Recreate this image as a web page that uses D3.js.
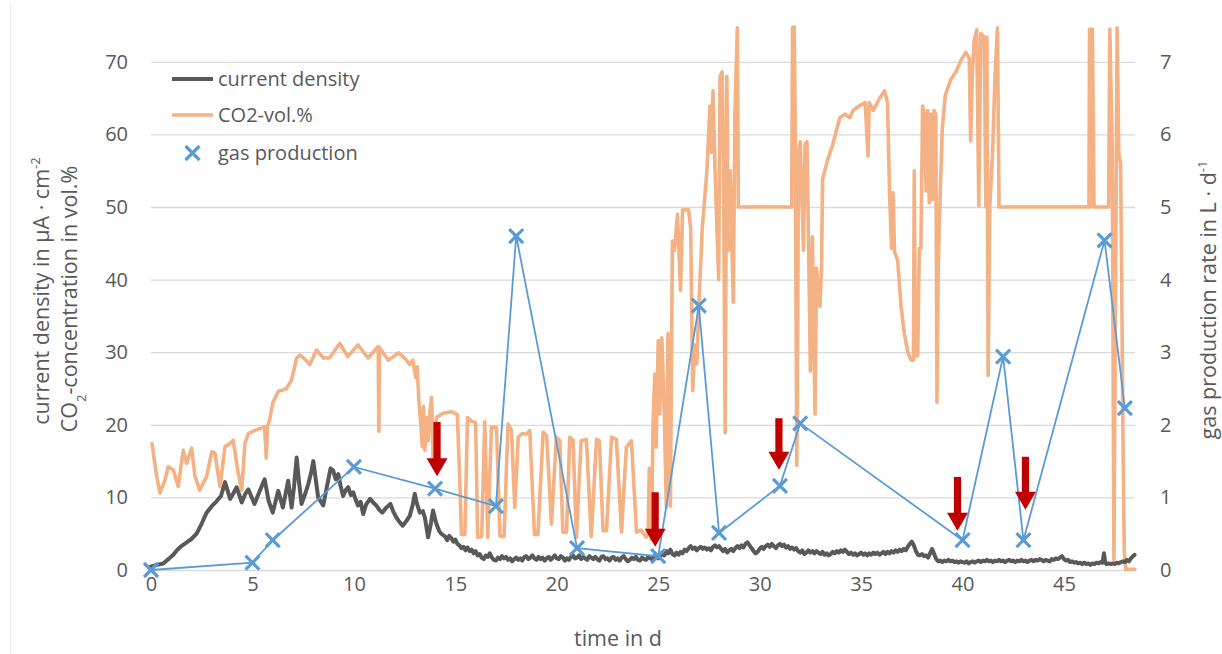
<!DOCTYPE html>
<html>
<head>
<meta charset="utf-8">
<script src="https://cdn.jsdelivr.net/npm/d3@7"></script>
<style>
  html, body { margin: 0; padding: 0; background: #ffffff; }
  svg { display: block; font-family: "Open Sans", sans-serif; }
</style>
</head>
<body>
<svg id="chart" width="1222" height="654"></svg>
<script>
// ---- data -------------------------------------------------------------
// current density (µA·cm⁻²): [time in d, value]
const currentSeries = [
  [0.0,0.5],[0.3,0.7],[0.6,0.9],[0.9,1.6],[1.1,2.1],[1.27,2.7],[1.5,3.3],[1.76,3.8],[2.0,4.3],[2.25,5.0],
  [2.5,6.4],[2.74,7.9],[3.0,8.8],[3.24,9.5],[3.45,10.2],[3.65,12.1],[3.9,9.8],[4.05,10.5],[4.22,11.4],[4.47,9.3],
  [4.65,10.5],[4.8,11.1],[5.1,9.1],[5.35,10.8],[5.6,12.5],[5.8,9.5],[6.0,7.9],[6.27,10.9],[6.5,8.6],[6.76,12.3],
  [6.93,8.6],[7.05,11.5],[7.18,15.5],[7.3,12.0],[7.42,9.1],[7.6,10.5],[7.75,11.8],[7.9,13.5],[8.0,15.0],[8.12,12.5],
  [8.24,10.0],[8.49,8.9],[8.6,10.5],[8.73,12.3],[8.85,14.0],[8.98,13.7],[9.1,12.5],[9.23,13.2],[9.35,11.5],[9.47,10.2],
  [9.6,11.0],[9.72,11.4],[9.85,10.3],[9.97,10.7],[10.1,9.6],[10.2,8.9],[10.33,9.4],[10.46,7.7],[10.6,9.0],[10.8,9.8],
  [10.95,9.3],[11.1,8.9],[11.25,8.3],[11.4,7.9],[11.6,8.6],[11.8,9.1],[11.95,8.0],[12.1,7.2],[12.25,6.6],[12.4,6.1],
  [12.6,6.8],[12.76,7.5],[12.9,9.0],[13.0,10.5],[13.1,9.2],[13.25,7.9],[13.4,8.1],[13.5,7.2],[13.66,4.5],[13.8,6.5],
  [13.9,8.2],[14.05,6.5],[14.2,5.4],[14.3,5.0],[14.4,4.8],[14.5,4.6],[14.6,4.1],[14.7,4.7],[14.8,4.4],[14.9,3.9],
  [15.0,4.2],[15.1,3.6],[15.2,3.4],[15.3,3.0],[15.4,3.2],[15.5,2.7],[15.6,3.1],[15.7,2.6],[15.8,2.8],[15.9,2.3],
  [16.0,2.6],[16.1,2.0],[16.2,2.2],[16.3,1.7],[16.4,1.5],[16.5,2.0],[16.6,1.8],[16.7,2.3],[16.8,1.7],[16.9,1.4],
  [17.0,1.3],[17.1,1.7],[17.2,1.5],[17.3,1.9],[17.4,1.6],[17.5,1.8],[17.6,1.4],[17.7,1.6],[17.8,1.2],[17.9,1.5],
  [18.0,1.7],[18.1,1.4],[18.2,1.6],[18.3,1.3],[18.4,1.8],[18.5,1.9],[18.6,1.5],[18.7,1.7],[18.8,2.0],[18.9,1.6],
  [19.0,1.4],[19.1,1.8],[19.2,1.5],[19.3,1.7],[19.4,1.3],[19.5,1.6],[19.6,1.8],[19.7,1.4],[19.8,1.7],[19.9,2.0],
  [20.0,1.6],[20.1,1.5],[20.2,1.9],[20.3,1.7],[20.4,1.3],[20.5,1.6],[20.6,1.4],[20.7,1.8],[20.8,2.0],[20.9,1.6],
  [21.0,1.7],[21.1,2.0],[21.2,1.5],[21.3,1.8],[21.4,1.6],[21.5,1.4],[21.6,1.9],[21.7,1.7],[21.8,1.5],[21.9,1.8],
  [22.0,1.5],[22.1,1.3],[22.2,1.8],[22.3,1.9],[22.4,1.5],[22.5,1.6],[22.6,1.3],[22.7,1.7],[22.8,1.8],[22.9,1.4],
  [23.0,1.6],[23.1,1.3],[23.2,1.7],[23.3,1.9],[23.4,1.5],[23.5,1.2],[23.6,1.4],[23.7,1.7],[23.8,1.5],[23.9,1.8],
  [24.0,1.4],[24.1,1.3],[24.2,1.7],[24.3,1.5],[24.4,1.4],[24.5,1.8],[24.6,1.6],[24.7,1.5],[24.8,1.9],[24.9,1.7],
  [25.0,1.6],[25.1,1.9],[25.2,2.4],[25.3,2.0],[25.4,2.6],[25.5,2.3],[25.6,2.8],[25.7,2.2],[25.8,2.0],[25.9,2.4],
  [26.0,2.1],[26.1,2.5],[26.2,2.3],[26.3,2.8],[26.4,2.6],[26.5,3.0],[26.6,3.3],[26.7,2.9],[26.8,3.1],[26.9,2.7],
  [27.0,3.0],[27.1,3.2],[27.2,2.9],[27.3,3.1],[27.4,2.8],[27.5,3.0],[27.6,2.7],[27.7,3.2],[27.8,3.4],[27.9,3.1],
  [28.0,3.3],[28.1,2.9],[28.2,2.6],[28.3,2.9],[28.4,2.4],[28.5,2.7],[28.6,2.9],[28.7,2.6],[28.8,3.0],[28.9,3.3],
  [29.0,3.0],[29.1,3.4],[29.2,3.1],[29.3,3.6],[29.4,3.8],[29.5,3.4],[29.6,3.0],[29.7,2.6],[29.8,2.3],[29.9,2.5],
  [30.0,2.9],[30.1,3.2],[30.2,2.9],[30.3,3.3],[30.4,3.5],[30.5,3.2],[30.6,3.6],[30.7,3.3],[30.8,3.0],[30.9,3.4],
  [31.0,3.6],[31.1,3.3],[31.2,3.5],[31.3,3.1],[31.4,3.3],[31.5,2.9],[31.6,3.1],[31.7,2.8],[31.8,3.0],[31.9,2.6],
  [32.0,2.4],[32.1,2.7],[32.2,2.2],[32.3,2.4],[32.4,2.7],[32.5,2.4],[32.6,2.6],[32.7,2.3],[32.8,2.6],[32.9,2.4],
  [33.0,2.2],[33.1,2.5],[33.2,2.1],[33.3,2.3],[33.4,2.0],[33.5,2.2],[33.6,2.5],[33.7,2.3],[33.8,2.6],[33.9,2.4],
  [34.0,2.7],[34.1,2.5],[34.2,2.8],[34.3,2.5],[34.4,2.2],[34.5,2.4],[34.6,2.1],[34.7,2.3],[34.8,2.0],[34.9,2.2],
  [35.0,2.4],[35.1,2.1],[35.2,2.3],[35.3,2.0],[35.4,2.3],[35.5,2.1],[35.6,2.4],[35.7,2.2],[35.8,2.4],[35.9,2.1],
  [36.0,2.3],[36.1,2.5],[36.2,2.2],[36.3,2.5],[36.4,2.3],[36.5,2.6],[36.6,2.4],[36.7,2.7],[36.8,2.5],[36.9,2.8],
  [37.0,2.6],[37.1,2.9],[37.2,2.7],[37.3,3.2],[37.4,3.6],[37.5,3.9],[37.6,3.4],[37.7,2.6],[37.8,2.1],[37.9,2.0],
  [38.0,2.2],[38.1,1.9],[38.2,2.0],[38.3,1.7],[38.4,2.3],[38.5,2.9],[38.6,2.2],[38.7,1.5],[38.8,1.2],[38.9,1.3],
  [39.0,1.1],[39.1,1.3],[39.2,1.2],[39.3,1.4],[39.4,1.2],[39.5,1.3],[39.6,1.1],[39.7,1.2],[39.8,1.0],[39.9,1.2],
  [40.0,1.1],[40.1,1.0],[40.2,1.2],[40.3,0.9],[40.4,1.1],[40.5,1.2],[40.6,1.0],[40.7,1.2],[40.8,1.3],[40.9,1.1],
  [41.0,1.3],[41.1,1.2],[41.2,1.4],[41.3,1.2],[41.4,1.3],[41.5,1.1],[41.6,1.3],[41.7,1.2],[41.8,1.4],[41.9,1.2],
  [42.0,1.3],[42.1,1.1],[42.2,1.3],[42.3,1.4],[42.4,1.2],[42.5,1.3],[42.6,1.1],[42.7,1.3],[42.8,1.2],[42.9,1.4],
  [43.0,1.2],[43.1,1.3],[43.2,1.1],[43.3,1.3],[43.4,1.4],[43.5,1.2],[43.6,1.4],[43.7,1.3],[43.8,1.5],[43.9,1.4],
  [44.0,1.2],[44.1,1.4],[44.2,1.3],[44.3,1.2],[44.4,1.5],[44.5,1.4],[44.6,1.6],[44.7,1.5],[44.8,1.7],[44.9,1.9],
  [45.0,1.5],[45.1,1.3],[45.2,1.4],[45.3,1.1],[45.4,1.2],[45.5,1.0],[45.6,1.1],[45.7,0.9],[45.8,1.0],[45.9,0.8],
  [46.0,1.0],[46.1,0.8],[46.2,0.9],[46.3,0.7],[46.4,0.9],[46.5,0.8],[46.6,1.0],[46.7,0.9],[46.8,1.1],[46.9,1.0],
  [46.97,2.3],[47.03,1.0],[47.1,0.8],[47.2,0.9],[47.3,0.8],[47.4,0.9],[47.5,0.8],[47.6,1.0],[47.7,0.9],[47.8,1.1],
  [47.9,1.2],[48.0,1.1],[48.1,1.4],[48.2,1.2],[48.3,1.6],[48.4,1.9],[48.48,2.1]
];

// CO2 concentration (vol.%): [time in d, value]
const co2Series = [
  [0.05,17.4],[0.28,12.9],[0.44,10.6],[0.69,12.4],[0.85,14.2],[1.1,13.8],[1.34,11.5],[1.59,16.5],[1.76,14.7],[2.0,16.8],
  [2.17,12.9],[2.4,11.0],[2.74,12.9],[3.0,16.3],[3.15,16.1],[3.4,11.5],[3.65,17.0],[3.9,17.4],[4.05,17.9],[4.3,13.3],
  [4.47,11.0],[4.63,17.4],[4.8,18.8],[5.1,19.2],[5.4,19.5],[5.6,19.7],[5.68,15.4],[5.74,19.8],[5.85,20.7],[6.0,23.0],
  [6.27,24.6],[6.5,24.8],[6.68,25.0],[6.93,26.2],[7.18,29.2],[7.34,29.6],[7.6,29.0],[7.83,28.3],[8.16,30.3],[8.5,29.2],
  [8.8,29.2],[9.3,31.2],[9.7,29.4],[10.2,31.0],[10.7,29.2],[11.2,30.8],[11.23,19.1],[11.27,30.6],[11.7,28.9],[12.2,29.9],
  [12.5,29.2],[12.75,28.3],[12.9,28.9],[13.05,26.5],[13.12,28.0],[13.2,23.5],[13.3,20.1],[13.37,17.0],[13.43,22.5],[13.5,16.5],
  [13.58,21.0],[13.66,17.8],[13.75,22.0],[13.83,23.8],[13.9,15.5],[14.07,21.0],[14.4,21.6],[14.8,21.8],[15.1,21.4],[15.22,12.3],
  [15.3,4.9],[15.47,4.9],[15.6,21.0],[15.8,20.5],[16.0,20.3],[16.1,4.5],[16.3,4.6],[16.45,20.4],[16.6,4.5],[16.78,19.7],
  [17.03,19.6],[17.2,4.7],[17.4,4.6],[17.6,20.1],[17.77,19.2],[17.93,8.6],[18.1,18.3],[18.3,18.8],[18.5,18.7],[18.67,19.2],
  [18.9,4.9],[19.07,4.9],[19.33,19.0],[19.5,18.5],[19.74,6.3],[19.98,18.3],[20.15,17.8],[20.3,5.2],[20.48,5.2],[20.64,18.3],
  [20.8,17.9],[20.97,4.5],[21.2,17.8],[21.46,18.0],[21.7,4.6],[21.96,18.0],[22.1,17.8],[22.28,5.4],[22.45,5.4],[22.7,18.3],
  [22.94,18.0],[23.19,5.2],[23.43,16.9],[23.68,17.8],[23.93,5.2],[24.15,5.5],[24.4,4.5],[24.5,5.0],[24.56,14.0],[24.66,4.2],
  [24.75,20.5],[24.83,27.0],[24.9,16.9],[25.0,31.6],[25.07,21.5],[25.18,32.0],[25.3,21.5],[25.4,8.6],[25.48,32.6],[25.6,8.8],
  [25.7,45.3],[25.8,44.0],[25.95,49.0],[26.1,38.5],[26.2,49.6],[26.5,49.6],[26.6,47.0],[26.7,24.7],[26.8,31.0],[26.9,28.4],
  [27.0,36.3],[27.17,47.0],[27.4,55.0],[27.55,63.9],[27.62,57.5],[27.7,66.0],[27.8,55.0],[27.98,40.0],[28.05,68.0],[28.15,68.6],
  [28.22,55.0],[28.3,18.9],[28.38,68.0],[28.46,44.0],[28.55,55.0],[28.7,36.9],[28.78,62.8],[28.9,74.7],[28.95,50.0],[31.58,50.0],
  [31.62,74.7],[31.7,75.0],[31.75,62.8],[31.83,14.4],[31.92,57.5],[32.0,59.0],[32.16,44.0],[32.24,58.6],[32.33,59.0],[32.4,47.0],
  [32.5,27.4],[32.6,45.9],[32.73,21.5],[32.8,41.6],[32.97,36.3],[33.05,41.6],[33.1,53.8],[33.35,56.5],[33.6,58.6],[33.95,62.3],
  [34.2,62.8],[34.45,62.3],[34.6,63.3],[34.9,63.9],[35.2,64.4],[35.34,57.0],[35.4,64.4],[35.6,63.3],[35.9,64.9],[36.16,66.0],
  [36.3,64.4],[36.4,52.2],[36.5,44.3],[36.57,52.0],[36.65,43.8],[36.8,42.7],[36.97,36.3],[37.13,32.6],[37.3,30.0],[37.46,28.9],
  [37.58,28.9],[37.62,55.0],[37.68,29.5],[37.79,29.5],[37.87,44.3],[37.95,44.3],[38.03,63.9],[38.12,62.8],[38.2,52.2],[38.28,63.3],
  [38.36,50.6],[38.44,62.8],[38.52,51.0],[38.6,63.3],[38.68,62.8],[38.74,23.1],[38.8,41.6],[38.9,52.0],[39.0,60.7],[39.15,65.4],
  [39.43,67.6],[39.67,68.6],[39.92,70.2],[40.16,71.3],[40.33,70.5],[40.4,59.1],[40.48,68.0],[40.57,72.9],[40.7,74.4],[40.8,50.1],
  [40.9,73.9],[41.07,73.4],[41.15,50.0],[41.2,73.4],[41.26,26.8],[41.34,50.0],[41.48,57.5],[41.6,68.0],[41.72,74.7],[41.8,50.0],
  [46.23,50.0],[46.26,74.5],[46.34,50.0],[46.4,74.5],[46.48,50.0],[47.2,50.0],[47.26,74.5],[47.38,57.5],[47.46,1.4],[47.62,74.7],
  [47.7,57.5],[47.79,56.0],[47.84,41.6],[47.9,20.5],[47.97,2.5],[48.05,0.1],[48.5,0.1]
];

// gas production rate (L·d⁻¹), secondary axis
const gasDays = [0, 5, 6, 10, 14, 17, 18, 21, 25, 27, 28, 31, 32, 40, 42, 43, 47, 48];
const gasVals = [0.0, 0.1, 0.41, 1.42, 1.12, 0.88, 4.6, 0.3, 0.19, 3.64, 0.51, 1.16, 2.02, 0.41, 2.94, 0.41, 4.54, 2.23];

// red event arrows: day, top and tip on the primary axis
const arrowDays = [14.1, 24.85, 30.95, 39.75, 43.1];
const arrowTop  = [20.4, 10.7, 20.9, 12.8, 15.6];
const arrowTip  = [12.9, 3.2, 13.8, 5.4, 8.3];

// axis ticks
const xTicks = [0, 5, 10, 15, 20, 25, 30, 35, 40, 45];
const leftTicks = [0, 10, 20, 30, 40, 50, 60, 70];
const rightTicks = [0, 1, 2, 3, 4, 5, 6, 7];

// legend entries
const legendLabels = ["current density", "CO2-vol.%", "gas production"];

// ---- layout -----------------------------------------------------------
const plot = { left: 151, right: 1135, top: 25.5, bottom: 570 };
const C = {
  text: "#595959", grid: "#D9D9D9",
  current: "#595959", co2: "#F4B183", gas: "#5B9BD5", arrow: "#C00000"
};
const FS = 20;       // tick + legend text
const FT = 21.5;     // axis titles

const svg = d3.select("#chart");

const x = d3.scaleLinear().domain([0, 48.5]).range([plot.left, plot.right]);
const yL = d3.scaleLinear().domain([0, 75]).range([plot.bottom, plot.top]);
const yR = d3.scaleLinear().domain([0, 7.5]).range([plot.bottom, plot.top]);

// faint outer frame edge
svg.append("line").attr("x1", 10.5).attr("x2", 10.5).attr("y1", 4).attr("y2", 654)
  .attr("stroke", "#EBEBEB").attr("stroke-width", 1);

// horizontal gridlines
const grid = svg.append("g").attr("transform", `translate(${plot.left},0)`)
  .call(d3.axisLeft(yL).tickValues(leftTicks).tickSize(-(plot.right - plot.left)).tickFormat(""));
grid.select(".domain").remove();
grid.selectAll("line").attr("stroke", C.grid).attr("stroke-width", 1.3);

function styleAxis(g) {
  g.select(".domain").remove();
  g.selectAll("text").attr("fill", C.text).style("font-size", FS + "px")
    .attr("font-family", null).style("font-family", "'Open Sans', sans-serif");
}

// left tick labels
svg.append("g").attr("transform", `translate(${plot.left},0)`)
  .call(d3.axisLeft(yL).tickValues(leftTicks).tickSize(0).tickPadding(23)).call(styleAxis);

// right tick labels
svg.append("g").attr("transform", `translate(${plot.right},0)`)
  .call(d3.axisRight(yR).tickValues(rightTicks).tickSize(0).tickPadding(25)).call(styleAxis);

// bottom tick labels
svg.append("g").attr("transform", `translate(0,${plot.bottom})`)
  .call(d3.axisBottom(x).tickValues(xTicks).tickSize(0).tickPadding(7)).call(styleAxis);

// clip for series
svg.append("defs").append("clipPath").attr("id", "plotClip")
  .append("rect").attr("x", plot.left - 4).attr("y", plot.top)
  .attr("width", plot.right - plot.left + 8).attr("height", plot.bottom - plot.top + 6);

const series = svg.append("g").attr("clip-path", "url(#plotClip)");

const gasData = gasDays.map((d, i) => [d, gasVals[i]]);

const lineL = d3.line().x(d => x(d[0])).y(d => yL(d[1]));
const lineR = d3.line().x(d => x(d[0])).y(d => yR(d[1]));

series.append("path").datum(co2Series).attr("d", lineL)
  .attr("fill", "none").attr("stroke", C.co2).attr("stroke-width", 3.6)
  .attr("stroke-linejoin", "round").attr("stroke-linecap", "round");

series.append("path").datum(currentSeries).attr("d", lineL)
  .attr("fill", "none").attr("stroke", C.current).attr("stroke-width", 4)
  .attr("stroke-linejoin", "round").attr("stroke-linecap", "round");

svg.append("path").datum(gasData).attr("d", lineR)
  .attr("fill", "none").attr("stroke", C.gas).attr("stroke-width", 1.8);

const cross = "M-7,-7L7,7M-7,7L7,-7";
svg.append("g").selectAll("path.mk").data(gasData).join("path")
  .attr("class", "mk")
  .attr("transform", d => `translate(${x(d[0])},${yR(d[1])})`)
  .attr("d", cross).attr("stroke", C.gas).attr("stroke-width", 3.2).attr("fill", "none");

// event arrows
const arrowPath = (d, i) => {
  const cx = x(d), t = yL(arrowTop[i]), p = yL(arrowTip[i]);
  const sh = 3.6, hh = 10.5, hl = 18;
  return `M${cx - sh},${t}L${cx + sh},${t}L${cx + sh},${p - hl}L${cx + hh},${p - hl}` +
         `L${cx},${p}L${cx - hh},${p - hl}L${cx - sh},${p - hl}Z`;
};
svg.append("g").selectAll("path").data(arrowDays).join("path")
  .attr("d", arrowPath).attr("fill", C.arrow);

// legend
const lg = svg.append("g");
const lgY = [79, 115, 153];
lg.append("line").attr("x1", 172).attr("x2", 213).attr("y1", lgY[0]).attr("y2", lgY[0])
  .attr("stroke", C.current).attr("stroke-width", 4);
lg.append("line").attr("x1", 172).attr("x2", 213).attr("y1", lgY[1]).attr("y2", lgY[1])
  .attr("stroke", C.co2).attr("stroke-width", 3.6);
lg.append("path").attr("transform", `translate(192.5,${lgY[2]})`).attr("d", cross)
  .attr("stroke", C.gas).attr("stroke-width", 3.2).attr("fill", "none");
lg.selectAll("text").data(legendLabels).join("text")
  .attr("x", 218).attr("y", (d, i) => lgY[i]).attr("dy", "0.35em")
  .attr("fill", C.text).style("font-size", FS + "px").text(d => d);

// axis titles
const tl = svg.append("text").attr("fill", C.text).style("font-size", FT + "px")
  .attr("text-anchor", "middle").attr("transform", "translate(49,291) rotate(-90)");
tl.append("tspan").text("current density in µA · cm");
tl.append("tspan").attr("baseline-shift", "super").style("font-size", "13px").text("-2");

const tl2 = svg.append("text").attr("fill", C.text).style("font-size", FT + "px")
  .attr("text-anchor", "middle").attr("transform", "translate(77,299) rotate(-90)");
tl2.append("tspan").text("CO");
tl2.append("tspan").attr("baseline-shift", "sub").style("font-size", "13px").text("2");
tl2.append("tspan").text("-concentration in vol.%");

const tr = svg.append("text").attr("fill", C.text).style("font-size", FT + "px")
  .attr("text-anchor", "middle").attr("transform", "translate(1216,300) rotate(-90)");
tr.append("tspan").text("gas production rate in L · d");
tr.append("tspan").attr("baseline-shift", "super").style("font-size", "13px").text("-1");

svg.append("text").attr("fill", C.text).style("font-size", FT + "px")
  .attr("text-anchor", "middle").attr("x", 618).attr("y", 646).text("time in d");
</script>
</body>
</html>
